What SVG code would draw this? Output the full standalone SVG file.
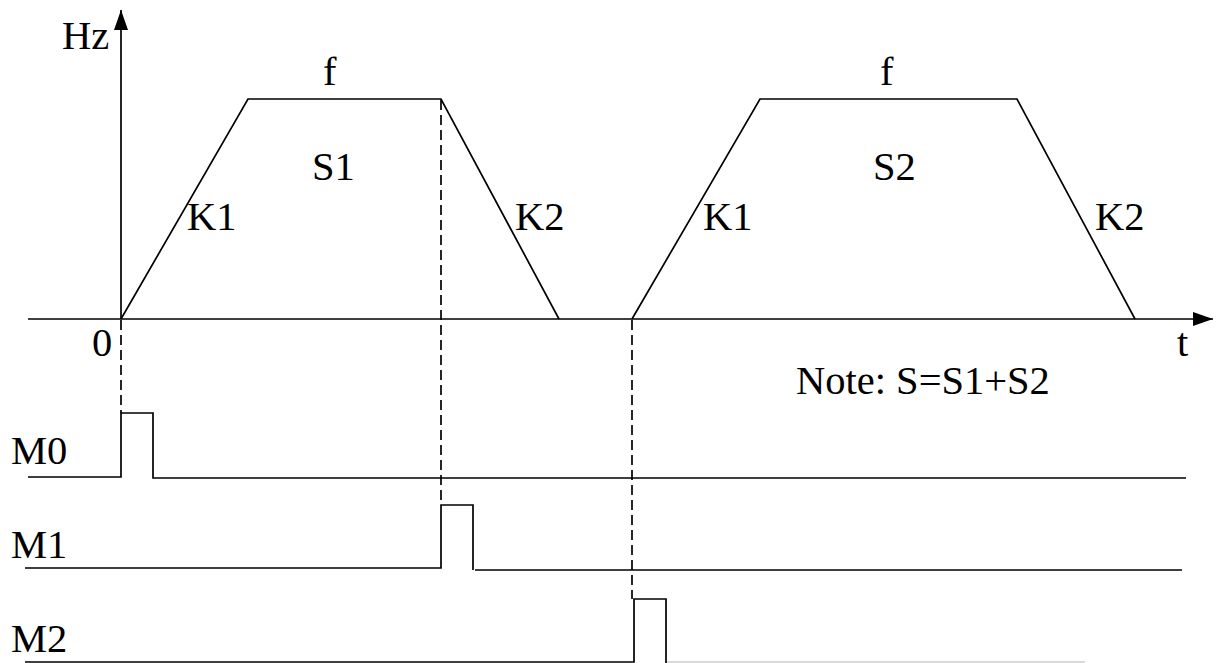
<svg xmlns="http://www.w3.org/2000/svg" width="1224" height="663" viewBox="0 0 1224 663">
<style>
.ln{fill:none;stroke:#000;stroke-width:1.7;stroke-linejoin:miter}
.ds{fill:none;stroke:#000;stroke-width:1.7;stroke-dasharray:10,5}
.tx{font-family:'Liberation Serif','Times New Roman','DejaVu Serif',serif;font-size:40.5px;fill:#000}
</style>
<defs>
<marker id="ah" markerWidth="20" markerHeight="14" refX="20" refY="7" orient="auto" markerUnits="userSpaceOnUse">
<path d="M0,0 L20,7 L0,14 Z" fill="#000"/>
</marker>
</defs>
<rect width="1224" height="663" fill="#fff"/>
<g id="axes">
<line class="ln" x1="121" y1="319" x2="121" y2="10" marker-end="url(#ah)"/>
<line class="ln" x1="28" y1="319" x2="1213" y2="319" marker-end="url(#ah)"/>
</g>
<g id="profile1">
<polyline class="ln" points="121,319 248,99 441,99 559,319"/>
</g>
<g id="profile2">
<polyline class="ln" points="632,319 760,99 1017,99 1135,319"/>
</g>
<g id="connectors">
<line class="ds" x1="121" y1="320" x2="121" y2="413"/>
<line class="ds" x1="441" y1="100" x2="441" y2="505"/>
<line class="ds" x1="632" y1="320" x2="632" y2="599"/>
</g>
<g id="M0">
<polyline class="ln" points="28,477 121,477 121,413 153,413 153,478 1186,478"/>
</g>
<g id="M1">
<polyline class="ln" points="25,568 441,568 441,505 473,505 473,570"/>
<line class="ln" x1="475" y1="570" x2="1182" y2="570"/>
</g>
<g id="M2">
<polyline class="ln" points="25,662 634,662 634,599 666,599 666,663"/>
<line x1="667" y1="662" x2="1085" y2="662" stroke="#ccc" stroke-width="1.6"/>
</g>
<g id="labels">
<text class="tx" x="62" y="49">Hz</text>
<text class="tx" x="323" y="85">f</text>
<text class="tx" x="880" y="85">f</text>
<text class="tx" x="312" y="180">S1</text>
<text class="tx" x="873" y="180">S2</text>
<text class="tx" x="187" y="230">K1</text>
<text class="tx" x="515" y="230">K2</text>
<text class="tx" x="703" y="230">K1</text>
<text class="tx" x="1095" y="230">K2</text>
<text class="tx" x="92" y="356">0</text>
<text class="tx" x="1177" y="356">t</text>
<text class="tx" x="796" y="394">Note: S=S1+S2</text>
<text class="tx" x="11" y="464">M0</text>
<text class="tx" x="11" y="558">M1</text>
<text class="tx" x="11" y="652">M2</text>
</g>
</svg>
